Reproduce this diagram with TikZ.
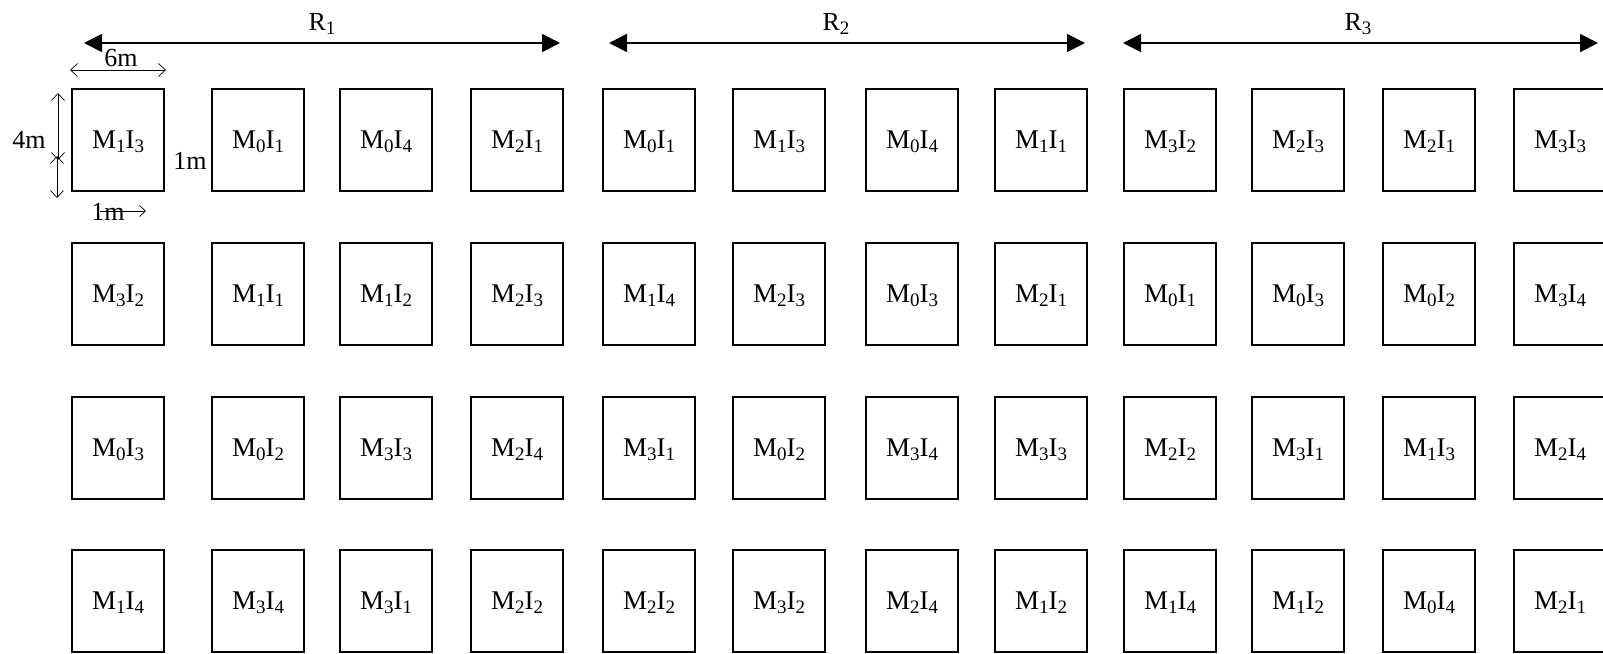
\documentclass[tikz,border=0pt]{standalone}
\usepackage{fontspec}
\setmainfont{Liberation Serif}
\usetikzlibrary{arrows.meta}
\newcommand\sbx[1]{\raisebox{-0.3ex}{\fontsize{19}{19}\selectfont #1}}
\def\celltxt#1#2{M\sbx{#1}I\sbx{#2}}
\begin{document}
\begin{tikzpicture}[x=1pt,y=-1pt,
  cell/.style={draw, line width=1.1pt, minimum width=92pt, minimum height=102pt, inner sep=0pt, text depth=0pt, font=\fontsize{27}{27}\selectfont},
  lab/.style={inner sep=0pt, font=\fontsize{26}{26}\selectfont},
  bigarr/.style={line width=1.8pt, {Triangle[length=18pt,width=18pt]}-{Triangle[length=18pt,width=18pt]}},
  dimarr/.style={line width=0.7pt, {Straight Barb[length=7pt,width=13pt]}-{Straight Barb[length=7pt,width=13pt]}},
  onearr/.style={line width=0.7pt, -{Straight Barb[length=6pt,width=11pt]}}]
\useasboundingbox (0,0) rectangle (1603,653);
\clip (0,0) rectangle (1603,653);
% grid of cells
\foreach \row [count=\r] in {{13,01,04,21,01,13,04,11,32,23,21,33},{32,11,12,23,14,23,03,21,01,03,02,34},{03,02,33,24,31,02,34,33,22,31,13,24},{14,34,31,22,22,32,24,12,14,12,04,21}}{
  \foreach \lab [count=\c] in \row {
    \pgfmathsetmacro\xx{{72,212,340,471,603,733,866,995,1124,1252,1383,1514}[\c-1]+46}
    \pgfmathsetmacro\yy{{89,243,397,550}[\r-1]+51}
    \node[cell] (c\r-\c) at (\xx,\yy) {\expandafter\celltxt\lab};
  }
}
% range arrows
\coordinate (r1a) at (84,43);  \coordinate (r1b) at (560,43);
\coordinate (r2a) at (609,43); \coordinate (r2b) at (1085,43);
\coordinate (r3a) at (1123,43); \coordinate (r3b) at (1598,43);
\draw[bigarr] (r1a) -- (r1b);
\draw[bigarr] (r2a) -- (r2b);
\draw[bigarr] (r3a) -- (r3b);
\node[lab] (R1) at (322,24) {R\sbx{1}};
\node[lab] (R2) at (836,24) {R\sbx{2}};
\node[lab] (R3) at (1358,24) {R\sbx{3}};
% dimensions
\coordinate (w1) at (70,70); \coordinate (w2) at (166,70);
\draw[dimarr] (w1) -- (w2);
\node[lab] (six) at (121,58) {6m};
\coordinate (h1) at (58,93); \coordinate (h2) at (58,160);
\coordinate (h3) at (57,156); \coordinate (h4) at (57,198);
\draw[dimarr] (h1) -- (h2);
\draw[dimarr] (h3) -- (h4);
\node[lab] (four) at (29,140) {4m};
\node[lab] (gap) at (190,161) {1m};
\node[lab] (bot) at (108,212) {1m};
\coordinate (b1) at (100,211); \coordinate (b2) at (146,211);
\draw[onearr] (b1) -- (b2);
\end{tikzpicture}
\end{document}
